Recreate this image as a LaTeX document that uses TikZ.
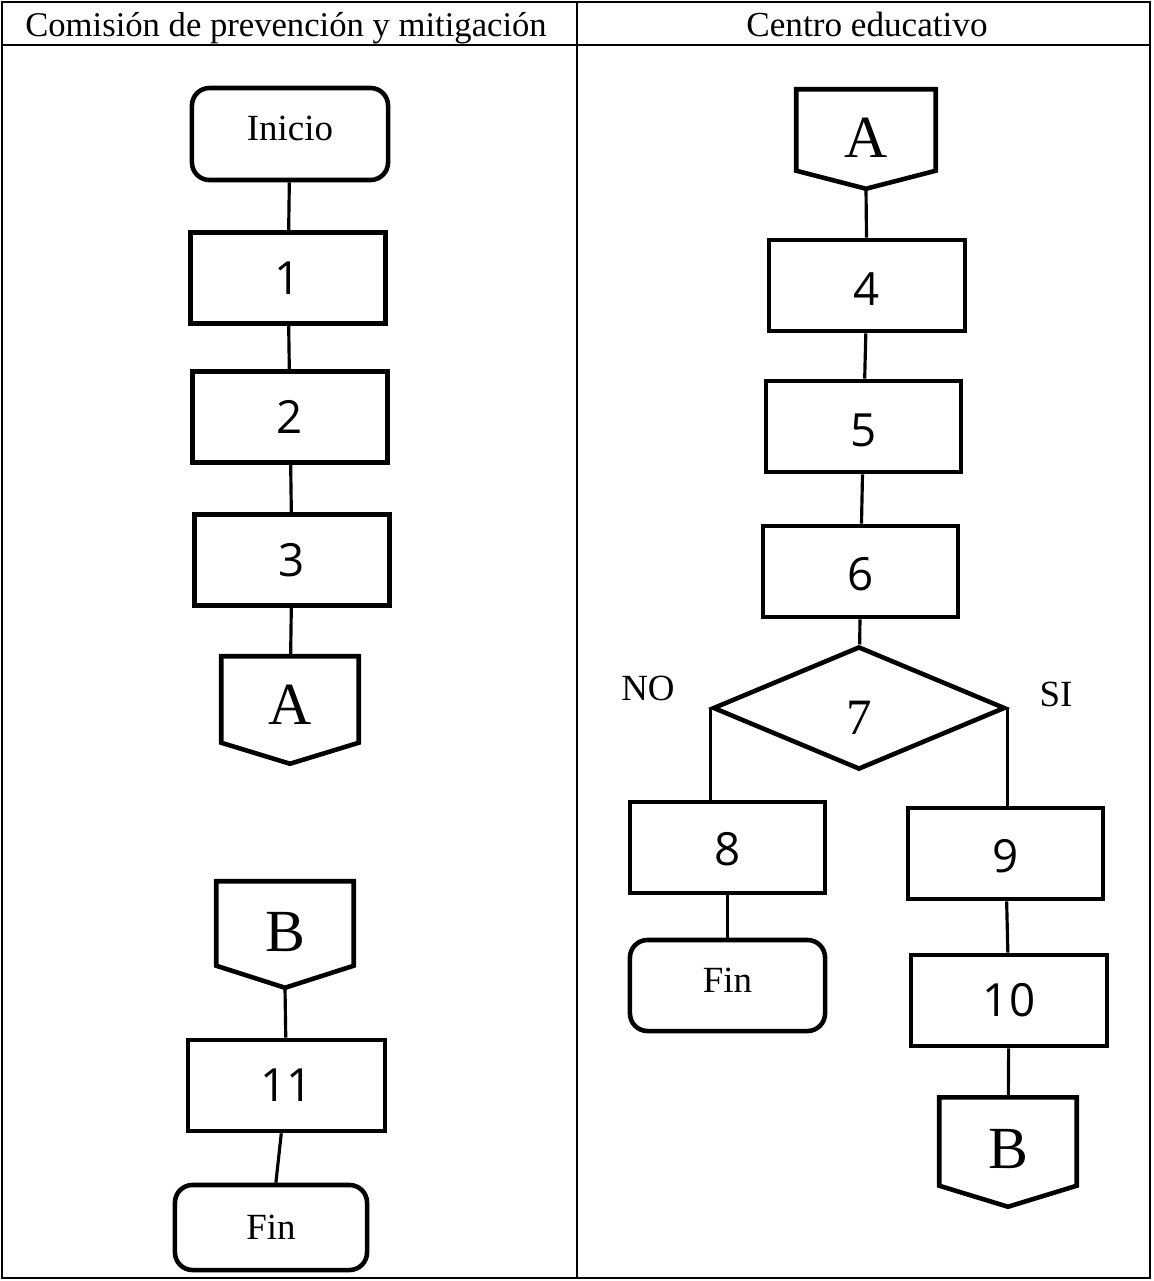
\documentclass[tikz,border=0pt]{standalone}
\usepackage{fontspec}
\setmainfont{Liberation Serif}
\newfontfamily\digitfont{Open Sans}
\usetikzlibrary{shapes.geometric,calc}
\tikzset{
  proc/.style={draw, line width=1.3pt, minimum width=1.95cm, minimum height=0.91cm, inner sep=0pt,
    font=\digitfont\fontsize{13}{13}\selectfont},
  term/.style={draw, line width=1.3pt, rounded corners=5pt, inner sep=0pt,
    font=\fontsize{10.5}{10.5}\selectfont},
  conn/.style={draw=none, minimum width=1.36cm, inner sep=0pt, font=\fontsize{17}{17}\selectfont},
  pentline/.style={line width=1.3pt, line join=miter},
  link/.style={line width=0.9pt},
  grid/.style={line width=0.7pt},
  lbl/.style={inner sep=0pt, font=\fontsize{10.5}{10.5}\selectfont},
}
\newcommand{\pentdraw}[2]{%
  \draw[pentline] (#1.north west) -- (#1.north east) -- (#1.south east) -- ([yshift=-#2]#1.south) -- (#1.south west) -- cycle;}
\newcommand{\dropbox}[2]{\raisebox{-#1}[\height][\depth]{#2}}
\begin{document}
\begin{tikzpicture}[x=0.01cm,y=-0.01cm]
\useasboundingbox (0,0) rectangle (1153,1281);
% table
\draw[grid] (2,2) rectangle (1150,1278);
\draw[grid] (2,45) -- (1150,45);
\draw[grid] (577,2) -- (577,1278);
\node[lbl, anchor=base, font=\fontsize{9.85}{9.85}\selectfont] (h1) at (286,36) {Comisión de prevención y mitigación};
\node[lbl, anchor=base, font=\fontsize{10}{10}\selectfont] (h2) at (867,36) {Centro educativo};
% left column
\node[term, minimum width=1.96cm, minimum height=0.92cm] (inicio) at (290,134) {\raisebox{0.06cm}[\height][\depth]{Inicio}};
\node[proc] (b1) at (288,278) {1};
\node[proc] (b2) at (290,417) {2};
\node[proc] (b3) at (292,560) {3};
\node[conn, minimum height=0.85cm] (Al) at (290,699.5) {\dropbox{0.05cm}{A}};
\pentdraw{Al}{0.21cm}
\node[conn, minimum height=0.83cm] (Bl) at (285,923.5) {\dropbox{0.08cm}{B}};
\pentdraw{Bl}{0.22cm}
\coordinate (Bltip) at ([yshift=-0.22cm]Bl.south);
\node[proc, minimum width=1.97cm] (b11) at (286.5,1085.5) {11};
\node[term, minimum width=1.92cm, minimum height=0.85cm] (finL) at (271,1227.5) {Fin};
% right column
\node[conn, minimum width=1.38cm, minimum height=0.80cm] (Ar) at (866,130) {\dropbox{0.08cm}{A}};
\pentdraw{Ar}{0.18cm}
\coordinate (Artip) at ([yshift=-0.18cm]Ar.south);
\node[proc, minimum width=1.96cm] (b4) at (867,285.5) {\dropbox{0.04cm}{4}};
\node[proc] (b5) at (863.5,426.5) {\dropbox{0.04cm}{5}};
\node[proc] (b6) at (860.5,571.5) {\dropbox{0.03cm}{6}};
\node[diamond, draw, line width=1.3pt, aspect=2.37, minimum width=2.92cm, minimum height=1.23cm, inner sep=0pt,
  font=\fontsize{14.5}{14.5}\selectfont] (d7) at (859,708) {\dropbox{0.1cm}{7}};
\node[lbl] (no) at (648,688) {NO};
\node[lbl] (si) at (1056,694) {SI};
\node[proc] (b8) at (727.5,847.5) {\dropbox{0.02cm}{8}};
\node[proc] (b9) at (1005.5,853.5) {\dropbox{0.03cm}{9}};
\node[term, minimum width=1.95cm, minimum height=0.91cm, text depth=0pt] (finR) at (727.5,985.5) {\raisebox{3pt}{Fin}};
\node[proc, minimum width=1.96cm] (b10) at (1009,1000.5) {10};
\node[conn, minimum height=0.87cm] (Br) at (1008,1141.5) {\dropbox{0.07cm}{B}};
\pentdraw{Br}{0.21cm}
% connectors
\draw[link] (inicio) -- (b1);
\draw[link] (b1) -- (b2);
\draw[link] (b2) -- (b3);
\draw[link] (b3) -- (Al);
\draw[link] (Bltip) -- (b11);
\draw[link] (b11) -- (finL);
\draw[link] (Artip) -- (b4);
\draw[link] (b4) -- (b5);
\draw[link] (b5) -- (b6);
\draw[link] (b6) -- (d7);
\draw[link] (d7.west) -- (d7.west |- b8.north);
\draw[link] (d7.east) -- (d7.east |- b9.north);
\draw[link] (b8) -- (finR);
\draw[link] (b9) -- (b10);
\draw[link] (b10) -- (Br);
\end{tikzpicture}
\end{document}
